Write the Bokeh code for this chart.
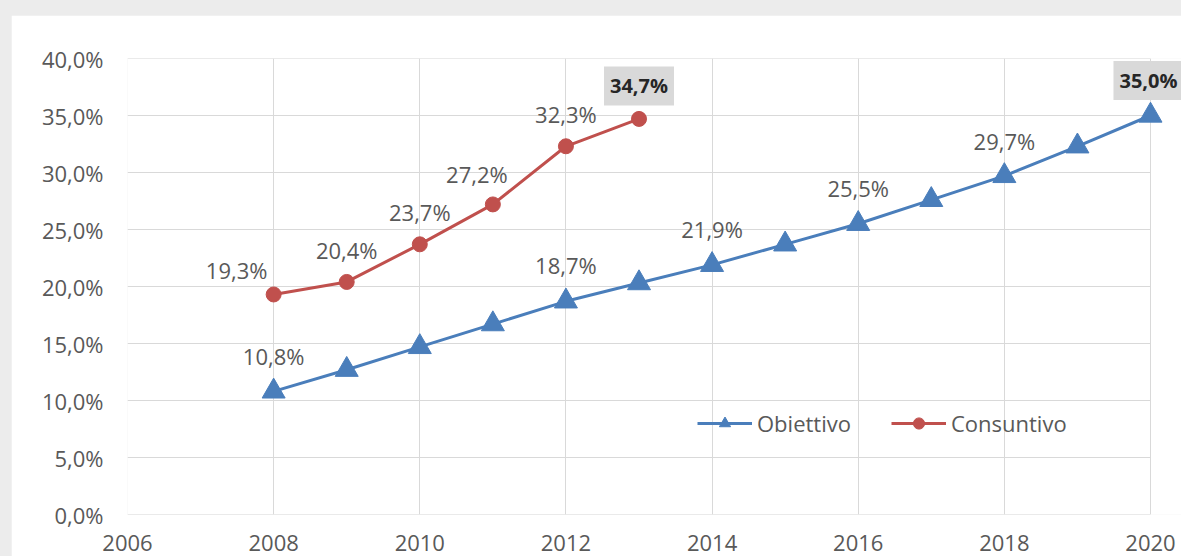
from bokeh.plotting import figure
from bokeh.models import (ColumnDataSource, LabelSet, Label, Range1d, FixedTicker,
                          Legend, LegendItem)
from bokeh.core.properties import value
from bokeh.layouts import column
from bokeh.embed import file_html
from bokeh.resources import INLINE

# ---- data ----
years_obj = [2008, 2009, 2010, 2011, 2012, 2013, 2014, 2015, 2016, 2017, 2018, 2019, 2020]
obiettivo = [10.8, 12.7, 14.7, 16.7, 18.7, 20.3, 21.9, 23.7, 25.5, 27.6, 29.7, 32.3, 35.0]
years_cons = [2008, 2009, 2010, 2011, 2012, 2013]
consuntivo = [19.3, 20.4, 23.7, 27.2, 32.3, 34.7]
x_ticks = [2006, 2008, 2010, 2012, 2014, 2016, 2018, 2020]
y_ticks = [0, 5, 10, 15, 20, 25, 30, 35, 40]
obj_labelled_years = [2008, 2012, 2014, 2016, 2018]
obj_label_dx = [0, 0, 0, 0, 0]
obj_label_dy = [35, 36, 36, 36, 35]
cons_labelled_years = [2008, 2009, 2010, 2011, 2012]
cons_label_dx = [-37, 0, 0, -16, 0]
cons_label_dy = [24, 32, 32, 30, 32]

FONT = "Open Sans"
TXT = "#595959"
BLUE = "#4a7ebb"
RED = "#c0504d"
GRID = "#d9d9d9"

X0, X1 = x_ticks[0], x_ticks[-1]
Y0, Y1 = y_ticks[0], y_ticks[-1]


def fmt(v):
    return f"{v:.1f}%".replace(".", ",")


# frame extends 31px beyond 2020 so the right-hand label box is not clipped
PX_PER_YEAR = (1150 - 127) / (X1 - X0)
p = figure(width=1170, height=541, margin=(15, 0, 0, 11),
           x_range=Range1d(X0, X1 + 31 / PX_PER_YEAR), y_range=Range1d(Y0, Y1),
           output_backend="svg", toolbar_location=None,
           min_border_left=116, min_border_top=43, min_border_bottom=42, min_border_right=0)
p.outline_line_color = None
p.background_fill_color = "white"
p.border_fill_color = "white"

# axes
p.xaxis.ticker = FixedTicker(ticks=x_ticks)
p.yaxis.ticker = FixedTicker(ticks=y_ticks)
p.yaxis.major_label_overrides = {t: fmt(float(t)) for t in y_ticks}
p.xaxis.major_label_overrides = {t: str(t) for t in x_ticks}
for ax in (p.xaxis, p.yaxis):
    ax.major_tick_line_color = None
    ax.minor_tick_line_color = None
    ax.axis_line_color = None
    ax.major_label_text_font = FONT
    ax.major_label_text_font_size = "22px"
    ax.major_label_text_color = TXT
p.yaxis.major_label_standoff = 18
p.xaxis.major_label_standoff = 14

# grid (horizontal lines only across 2006..2020)
p.xgrid.ticker = FixedTicker(ticks=x_ticks)
p.xgrid.grid_line_color = GRID
p.ygrid.grid_line_color = None
p.segment(x0=[X0] * len(y_ticks), x1=[X1] * len(y_ticks), y0=y_ticks, y1=y_ticks,
          line_color=GRID, line_width=1)

# series
l1 = p.line(years_obj, obiettivo, line_color=BLUE, line_width=3)
s1 = p.scatter(years_obj, obiettivo, marker="triangle", size=23, fill_color=BLUE, line_color=BLUE)
l2 = p.line(years_cons, consuntivo, line_color=RED, line_width=3)
s2 = p.scatter(years_cons, consuntivo, marker="circle", size=15, fill_color=RED, line_color=RED)

# data labels
obj_vals = [obiettivo[years_obj.index(y)] for y in obj_labelled_years]
src_o = ColumnDataSource(dict(x=obj_labelled_years, y=obj_vals, t=[fmt(v) for v in obj_vals],
                              dx=obj_label_dx, dy=obj_label_dy))
cons_vals = [consuntivo[years_cons.index(y)] for y in cons_labelled_years]
src_c = ColumnDataSource(dict(x=cons_labelled_years, y=cons_vals, t=[fmt(v) for v in cons_vals],
                              dx=cons_label_dx, dy=cons_label_dy))
for src in (src_o, src_c):
    p.add_layout(LabelSet(x="x", y="y", text="t", source=src, x_offset="dx", y_offset="dy",
                          text_align="center", text_baseline="middle", text_font=value(FONT),
                          text_font_size=value("22px"), text_color=TXT))

for xv, yv, dx, dy in ((years_cons[-1], consuntivo[-1], 0, 33), (years_obj[-1], obiettivo[-1], -2, 35)):
    p.add_layout(Label(x=xv, y=yv, text=fmt(yv), x_offset=dx, y_offset=dy,
                       text_align="center", text_baseline="middle", text_font=FONT,
                       text_font_size="20px", text_font_style="bold", text_color="#262626",
                       background_fill_color="#d9d9d9", padding=6))

legend = Legend(items=[LegendItem(label="Obiettivo", renderers=[l1, s1]),
                       LegendItem(label="Consuntivo", renderers=[l2, s2])],
                location=(570, 76), orientation="horizontal", glyph_width=55, glyph_height=28,
                label_standoff=5, spacing=40, padding=0, margin=0,
                border_line_color=None, background_fill_alpha=0,
                label_text_font=FONT, label_text_font_size="22px", label_text_color=TXT)
p.add_layout(legend)

layout = column(p, styles={"background-color": "#ececec"})

open("out.html", "w").write(file_html(layout, INLINE))
